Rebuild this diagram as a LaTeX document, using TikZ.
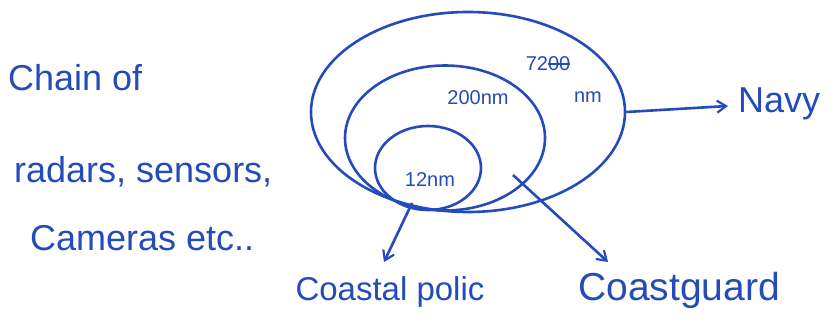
\documentclass[tikz,border=0pt]{standalone}
\usepackage{fontspec}
\setmainfont{Liberation Sans}
\usetikzlibrary{shapes.geometric,arrows.meta}
\definecolor{ink}{RGB}{35,75,185}
\begin{document}
\begin{tikzpicture}[x=1pt,y=-1pt,
  pen/.style={draw=ink,line width=2.6pt},
  zone/.style={pen,ellipse,inner sep=0pt},
  hand/.style={text=ink,inner sep=0pt,font=\fontsize{36}{40}\selectfont},
  small/.style={text=ink,inner sep=0pt,font=\fontsize{20}{22}\selectfont},
  arr/.style={pen,-{Straight Barb[length=9pt,width=12pt,line width=2.2pt]}}]
\useasboundingbox (0,0) rectangle (835,329);
% zones
\node[zone,minimum width=314pt,minimum height=200pt] (outer) at (468,112) {};
\node[zone,minimum width=200pt,minimum height=145pt] (middle) at (445,138) {};
\node[zone,minimum width=106pt,minimum height=84pt] (inner) at (428,168) {};
% zone labels
\node[small] (l12) at (430,180) {12nm};
\node[small] (l200) at (478,98) {200nm};
\node[small] (l72) at (548,64) {72\rlap{00}\phantom{00}};
\draw[ink,line width=2pt] ([xshift=-22pt]l72.east) -- (l72.east);
\node[small] (lnm) at (588,97) {nm};
% left text
\node[hand,anchor=west] (t1) at (8,78) {Chain of};
\node[hand,anchor=west] (t2) at (14,172) {radars, sensors,};
\node[hand,anchor=west] (t3) at (30,238) {Cameras etc..};
% agencies
\node[hand,anchor=west] (navy) at (738,104) {Navy};
\node[hand,font=\fontsize{33}{36}\selectfont] (police) at (390,292) {Coastal polic};
\node[hand,anchor=west,font=\fontsize{39}{42}\selectfont] (guard) at (578,290) {Coastguard};
% arrows
\coordinate (p0) at (412,203);
\coordinate (g0) at (513,175);
\coordinate (p1) at (384,262);
\coordinate (g1) at (608,262);
\coordinate (n1) at (728,106);
\draw[arr] (outer.east) -- (n1);
\draw[arr] (p0) -- (p1);
\draw[arr] (g0) -- (g1);
\end{tikzpicture}
\end{document}
